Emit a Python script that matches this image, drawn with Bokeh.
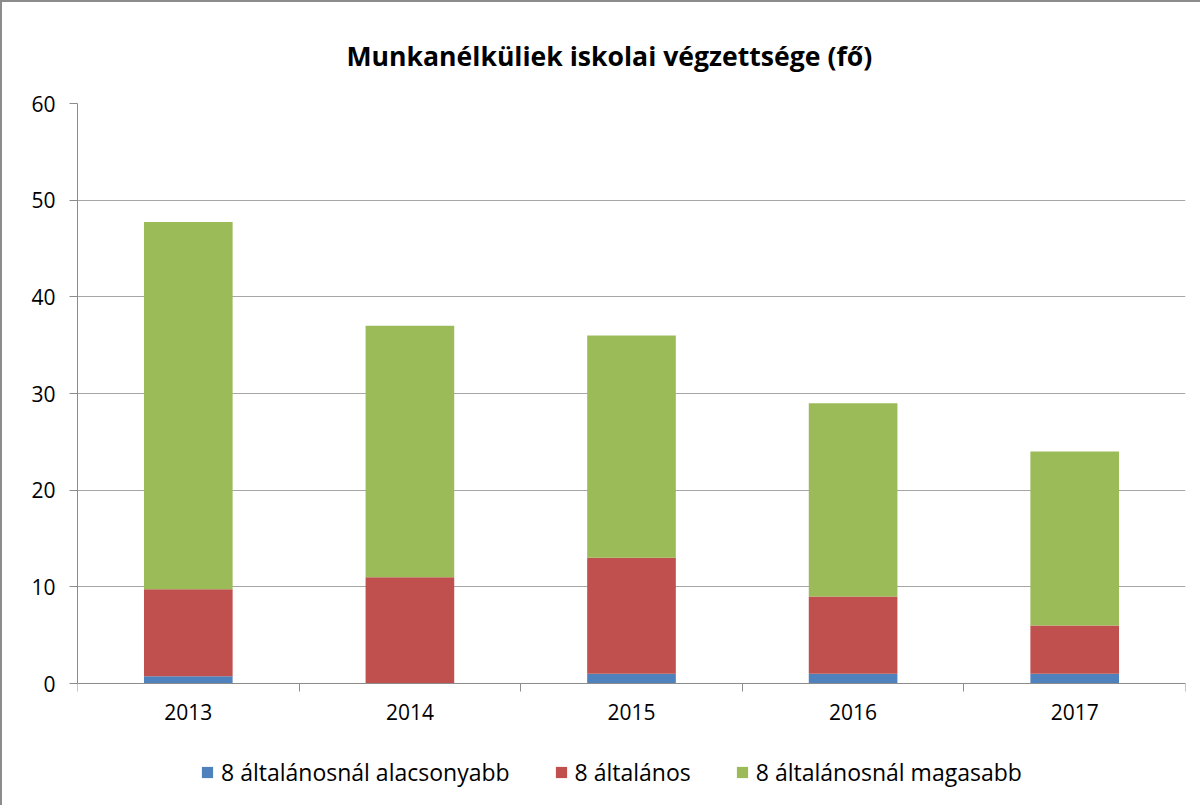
from bokeh.plotting import figure
from bokeh.models import Range1d, FixedTicker, Legend, LegendItem, ColumnDataSource
from bokeh.embed import file_html
from bokeh.resources import INLINE

years = ["2013", "2014", "2015", "2016", "2017"]
series_names = ["8 általánosnál alacsonyabb", "8 általános", "8 általánosnál magasabb"]
alacsonyabb = [0.75, 0, 1, 1, 1]
altalanos = [9, 11, 12, 8, 5]
magasabb = [38, 26, 23, 20, 18]
colors = ["#4F81BD", "#C0504D", "#9BBB59"]
y_ticks = [0, 10, 20, 30, 40, 50, 60]

FONT = "Open Sans"

# layout: the plotting frame is extended below the zero line so that the
# legend can sit inside it (value axis 0..60 spans 580 px)
Y_MAX = 60
AXIS_PX = 580
FRAME_H = 700
y_start = -(FRAME_H - AXIS_PX) * Y_MAX / AXIS_PX

xpos = [i + 0.5 for i in range(len(years))]
src = ColumnDataSource(dict(x=xpos, a=alacsonyabb, b=altalanos, c=magasabb))

p = figure(frame_width=1108, frame_height=FRAME_H, output_backend="svg", toolbar_location=None,
           x_range=Range1d(0, len(years)), y_range=Range1d(y_start, Y_MAX),
           min_border_left=75, min_border_right=15, min_border_top=101, min_border_bottom=2,
           title="Munkanélküliek iskolai végzettsége (fő)")
p.styles = {"border-left": "2px solid #8c8c8c", "border-top": "2px solid #8c8c8c"}

p.title.align = "left"
p.title.text_font = FONT
p.title.text_font_size = "26.6px"
p.title.text_font_style = "bold"
p.title.text_color = "#000000"
p.title.standoff = 60
p.title.offset = 269

renderers = p.vbar_stack(["a", "b", "c"], x="x", width=0.4, source=src,
                         color=colors, line_color=None)

p.outline_line_color = None
p.background_fill_color = "white"

# y axis
p.yaxis.ticker = FixedTicker(ticks=y_ticks)
p.yaxis.bounds = (0, Y_MAX)
p.yaxis.axis_line_color = "#8c8c8c"
p.yaxis.major_tick_line_color = "#8c8c8c"
p.yaxis.major_tick_out = 8
p.yaxis.major_tick_in = 0
p.yaxis.minor_tick_line_color = None
p.yaxis.major_label_text_font = FONT
p.yaxis.major_label_text_font_size = "21px"
p.yaxis.major_label_text_color = "#000000"
p.yaxis.major_label_standoff = 14

# x axis, fixed at the zero line
p.xaxis.fixed_location = 0
p.xaxis.ticker = FixedTicker(ticks=xpos, minor_ticks=list(range(len(years) + 1)))
p.xaxis.major_label_overrides = {x: y for x, y in zip(xpos, years)}
p.xaxis.axis_line_color = "#8c8c8c"
p.xaxis.major_tick_line_color = None
p.xaxis.minor_tick_line_color = "#8c8c8c"
p.xaxis.minor_tick_out = 8
p.xaxis.minor_tick_in = 0
p.xaxis.major_label_text_font = FONT
p.xaxis.major_label_text_font_size = "21px"
p.xaxis.major_label_text_color = "#000000"
p.xaxis.major_label_standoff = 12

p.xgrid.grid_line_color = None
p.ygrid.ticker = FixedTicker(ticks=y_ticks)
p.ygrid.grid_line_color = "#a6a6a6"

legend = Legend(items=[LegendItem(label=n, renderers=[r]) for n, r in zip(series_names, renderers)],
                orientation="horizontal", location=(123, 15))
legend.label_text_font = FONT
legend.label_text_font_size = "23px"
legend.label_text_color = "#000000"
legend.glyph_width = 14
legend.glyph_height = 14
legend.label_standoff = 7
legend.spacing = 44
legend.padding = 0
legend.margin = 0
legend.border_line_color = None
legend.background_fill_alpha = 0
p.add_layout(legend, "center")

open("out.html", "w").write(file_html(p, INLINE))
